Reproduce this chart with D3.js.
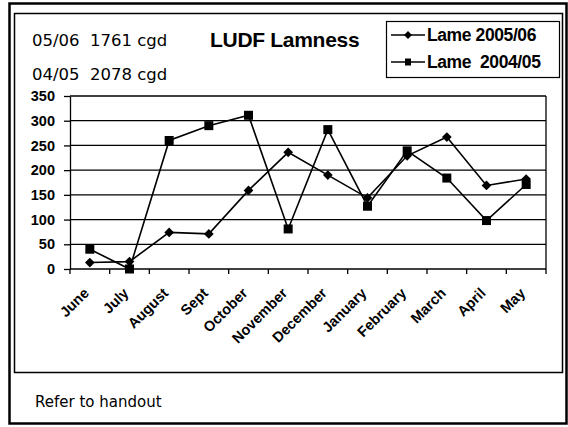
<!DOCTYPE html>
<html>
<head>
<meta charset="utf-8">
<script src="https://cdn.jsdelivr.net/npm/d3@7"></script>
<style>
  body { margin: 0; background: #fff; }
  svg { display: block; }
  text { white-space: pre; }
  .bold { font-family: "Liberation Sans", Arial, sans-serif; font-weight: bold; }
  .plain { font-family: "DejaVu Sans", Tahoma, sans-serif; }
</style>
</head>
<body>
<svg id="chart" width="568" height="427"></svg>
<script>
// DATA
var months = ["June", "July", "August", "Sept", "October", "November", "December",
              "January", "February", "March", "April", "May"];
var lame_0506 = [13, 15, 74, 71, 159, 236, 190, 144, 229, 267, 169, 182];
var lame_0405 = [40, 0, 260, 290, 311, 81, 282, 127, 239, 184, 98, 171];
var y_ticks = [0, 50, 100, 150, 200, 250, 300, 350];
var series_names = ["Lame 2005/06", "Lame  2004/05"];
var note_lines = ["05/06  1761 cgd", "04/05  2078 cgd"];

var svg = d3.select("#chart");

// frames
svg.append("rect").attr("x", 9.5).attr("y", 3.5).attr("width", 557).attr("height", 420)
  .attr("fill", "none").attr("stroke", "#000").attr("stroke-width", 2.5);
svg.append("rect").attr("x", 14.5).attr("y", 13.5).attr("width", 548).attr("height", 359)
  .attr("fill", "none").attr("stroke", "#000").attr("stroke-width", 1.5);

// plot area
var plot_left = 70, plot_right = 546, plot_top = 96, plot_bottom = 269;

var x = d3.scaleBand().domain(months).range([plot_left, plot_right]);
var y = d3.scaleLinear().domain([0, 350]).range([plot_bottom, plot_top]);

// gridlines
svg.append("g").selectAll("line").data(y_ticks.slice(1)).enter().append("line")
  .attr("x1", plot_left).attr("x2", plot_right)
  .attr("y1", d => y(d)).attr("y2", d => y(d))
  .attr("stroke", "#000").attr("stroke-width", 1.3);
// right border of plot
svg.append("line").attr("x1", plot_right).attr("x2", plot_right).attr("y1", plot_top).attr("y2", plot_bottom)
  .attr("stroke", "#000").attr("stroke-width", 1.3);

// y axis
var yAxis = svg.append("g").attr("transform", "translate(" + plot_left + ",0)")
  .call(d3.axisLeft(y).tickValues(y_ticks).tickSize(6).tickPadding(9).tickSizeOuter(0));
yAxis.selectAll("path, line").attr("stroke", "#000").attr("stroke-width", 1.3);
yAxis.selectAll("text").attr("class", "bold").style("font-size", "14.5px").attr("fill", "#000");

// x axis with ticks at category boundaries
var xAxis = svg.append("g").attr("transform", "translate(0," + plot_bottom + ")");
xAxis.append("line").attr("x1", plot_left).attr("x2", plot_right).attr("stroke", "#000").attr("stroke-width", 1.5);
var bounds = months.map(m => x(m)).concat([plot_right]);
xAxis.selectAll("line.tick").data(bounds).enter().append("line")
  .attr("class", "tick")
  .attr("x1", d => d).attr("x2", d => d).attr("y1", 0).attr("y2", 5)
  .attr("stroke", "#000").attr("stroke-width", 1.3);
xAxis.selectAll("text").data(months).enter().append("text")
  .attr("class", "bold")
  .attr("transform", d => "translate(" + (x(d) + x.bandwidth() / 2) + ",25) rotate(-45)")
  .attr("text-anchor", "end")
  .style("font-size", "14.5px")
  .text(d => d);

// lines
var line = d3.line().x((d, i) => x(months[i]) + x.bandwidth() / 2).y(d => y(d));
svg.append("path").datum(lame_0405).attr("d", line)
  .attr("fill", "none").attr("stroke", "#000").attr("stroke-width", 1.6);
svg.append("path").datum(lame_0506).attr("d", line)
  .attr("fill", "none").attr("stroke", "#000").attr("stroke-width", 1.6);

// markers
var diamond = d3.symbol().type(d3.symbolDiamond2).size(60);
svg.append("g").selectAll("path").data(lame_0506).enter().append("path")
  .attr("d", diamond)
  .attr("transform", (d, i) => "translate(" + (x(months[i]) + x.bandwidth() / 2) + "," + y(d) + ")")
  .attr("fill", "#000");
svg.append("g").selectAll("rect").data(lame_0405).enter().append("rect")
  .attr("x", (d, i) => x(months[i]) + x.bandwidth() / 2 - 4.5)
  .attr("y", d => y(d) - 4.5)
  .attr("width", 9).attr("height", 9)
  .attr("fill", "#000");

// title and notes
svg.append("text").attr("class", "bold").attr("x", 210).attr("y", 47)
  .style("font-size", "21px").style("letter-spacing", "-0.3px").text("LUDF Lamness");
svg.selectAll("text.note").data(note_lines).enter().append("text")
  .attr("class", "plain note").attr("x", 32).attr("y", (d, i) => 46 + i * 34)
  .style("font-size", "16.5px").text(d => d);
svg.append("text").attr("class", "plain").attr("x", 35).attr("y", 407)
  .style("font-size", "15px").text("Refer to handout");

// legend
var lg = svg.append("g");
lg.append("rect").attr("x", 386.5).attr("y", 21.5).attr("width", 173).attr("height", 56)
  .attr("fill", "#fff").attr("stroke", "#000").attr("stroke-width", 1.2);
series_names.forEach(function (name, i) {
  var cy = 35 + i * 27;
  lg.append("line").attr("x1", 391).attr("x2", 425).attr("y1", cy).attr("y2", cy)
    .attr("stroke", "#000").attr("stroke-width", 1.6);
  if (i == 0) {
    lg.append("path").attr("d", d3.symbol().type(d3.symbolDiamond2).size(40))
      .attr("transform", "translate(408," + cy + ")").attr("fill", "#000");
  } else {
    lg.append("rect").attr("x", 405).attr("y", cy - 3.5).attr("width", 6).attr("height", 7).attr("fill", "#000");
  }
  lg.append("text").attr("class", "bold").attr("x", 427).attr("y", cy + 6)
    .style("font-size", "17.5px").style("letter-spacing", "-0.4px").text(name);
});
</script>
</body>
</html>
